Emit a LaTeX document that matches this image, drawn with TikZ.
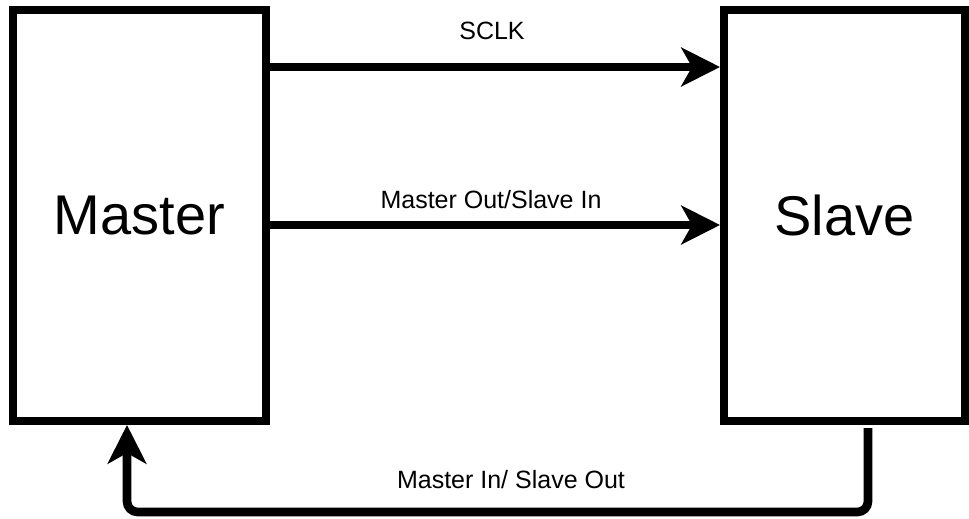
\documentclass[tikz,border=0pt]{standalone}
\usepackage{fontspec}
\setmainfont{Liberation Sans}
\usetikzlibrary{arrows.meta, positioning, calc}

\begin{document}
\begin{tikzpicture}[
  x=0.75pt, y=-0.75pt,
  block/.style={
    rectangle, draw=black, line width=6pt,
    fill=white, inner sep=0pt,
    minimum height=308.25pt,
    font=\fontsize{42}{50}\selectfont
  },
  wire/.style={line width=6.5pt, -{Stealth[length=29pt, width=29pt, inset=8pt]}},
  sig/.style={font=\fontsize{18.75}{22}\selectfont, inner sep=0pt},
]

\useasboundingbox (0,0) rectangle (969,518);

%% Blocks
\node[block, minimum width=189.75pt] (master) at (139.5,215.5) {Master};
\node[block, minimum width=180.75pt] (slave)  at (844.5,215.5) {Slave};

%% Signals
\draw[wire] (master.east |- 0,67)  -- (slave.west |- 0,67);
\draw[wire] (master.east |- 0,225) -- (slave.west |- 0,225);
\draw[wire, rounded corners=8pt] ($(slave.south)+(23.5,3)$) -- ++(0,84) -| ($(master.south)+(-12.5,0)$);

%% Signal names
\node[sig] (sclk) at (492,31)  {SCLK};
\node[sig] (mosi) at (491,200) {Master Out/Slave In};
\node[sig] (miso) at (511,480) {Master In/ Slave Out};

\end{tikzpicture}
\end{document}
